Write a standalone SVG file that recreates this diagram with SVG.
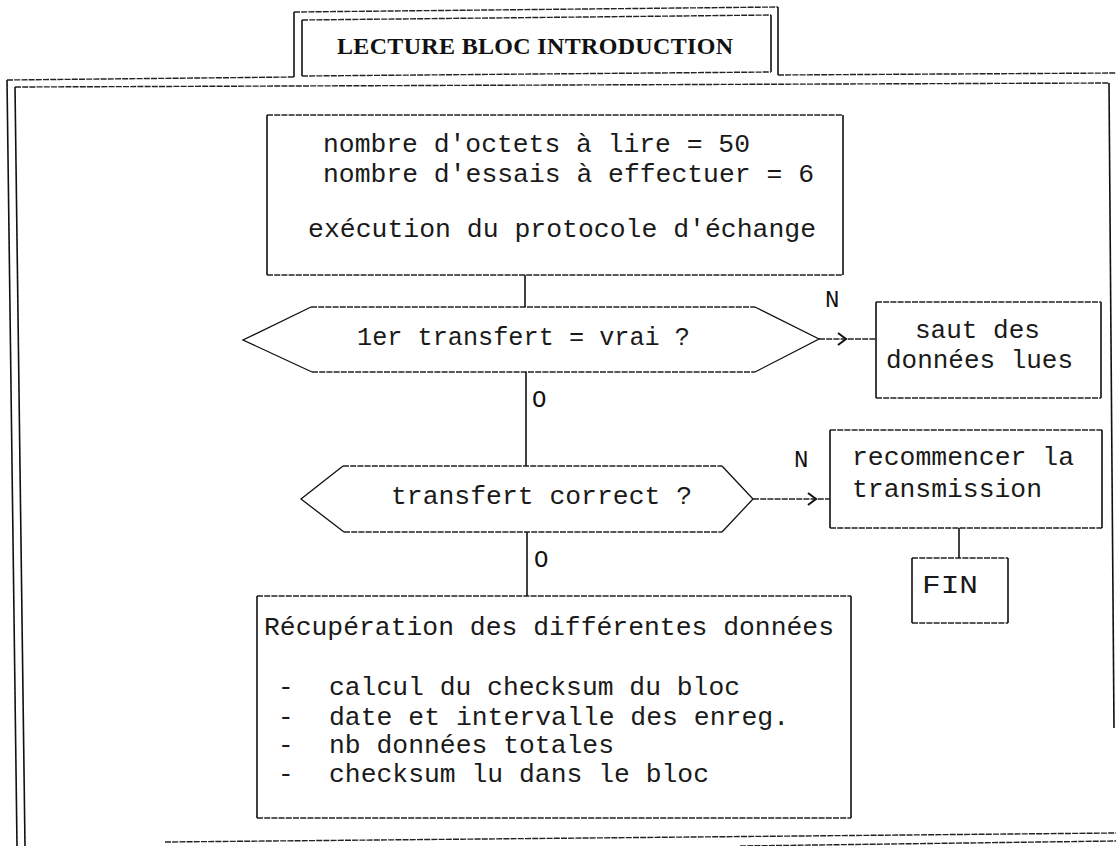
<svg xmlns="http://www.w3.org/2000/svg" width="1116" height="846" viewBox="0 0 1116 846">
<defs>
<style>
.h{stroke:#222;stroke-width:1.4;stroke-dasharray:6 1.2;fill:none}
.v{stroke:#111;stroke-width:1.6;fill:none}
.s{stroke:#111;stroke-width:1.3;fill:none}
.t{font-family:"Liberation Mono","DejaVu Sans Mono",monospace;font-size:26px;fill:#1a1a1a}
.ttl{font-family:"Liberation Serif","Times New Roman",serif;font-weight:bold;font-size:24px;fill:#111}
.lbl{font-family:"Liberation Mono","DejaVu Sans Mono",monospace;font-size:24px;fill:#111}
.c{stroke:#111;stroke-width:1.6;fill:none}
.cd{stroke:#222;stroke-width:1.4;stroke-dasharray:6 1.2;fill:none}
</style>
<marker id="chev" markerWidth="12" markerHeight="16" refX="9" refY="8" orient="auto" markerUnits="userSpaceOnUse"><path d="M1,2 L9,8 L1,14" fill="none" stroke="#111" stroke-width="2"/></marker>
</defs>
<rect width="1116" height="846" fill="#fff"/>
<g id="frame">
<line class="v" x1="7" y1="80" x2="17" y2="846"/>
<line class="v" x1="15" y1="87" x2="25" y2="846"/>
<line class="h" x1="7" y1="80" x2="294" y2="77"/>
<line class="h" x1="15" y1="87" x2="1109" y2="83"/>
<line class="h" x1="778" y1="75" x2="1116" y2="73"/>
<line class="v" x1="1109" y1="83" x2="1114" y2="728"/>
<line class="h" x1="165" y1="842" x2="1116" y2="833"/>
<line class="h" x1="740" y1="846" x2="1116" y2="841"/>
</g>
<g id="title">
<line class="v" x1="294" y1="77" x2="294" y2="12"/>
<line class="h" x1="294" y1="12" x2="778" y2="7"/>
<line class="v" x1="778" y1="7" x2="778" y2="75"/>
<line class="h" x1="302" y1="20" x2="771" y2="15"/>
<line class="v" x1="302" y1="20" x2="302" y2="76"/>
<line class="v" x1="771" y1="15" x2="771" y2="72"/>
<line class="h" x1="302" y1="76" x2="771" y2="72"/>
<text class="ttl" x="337" y="54" textLength="396" lengthAdjust="spacing">LECTURE BLOC INTRODUCTION</text>
</g>
<g id="n_init">
<path class="h" d="M267 115 H843 M267 275 H843"/>
<path class="v" d="M267 115 V275 M843 115 V275"/>
<text class="t" x="323" y="152" textLength="427" lengthAdjust="spacingAndGlyphs">nombre d'octets à lire = 50</text>
<text class="t" x="323" y="182" textLength="491" lengthAdjust="spacingAndGlyphs">nombre d'essais à effectuer = 6</text>
<text class="t" x="308" y="237" textLength="508" lengthAdjust="spacingAndGlyphs">exécution du protocole d'échange</text>
</g>
<g id="d_premier">
<path class="h" d="M311 307 H755 M312 372 H755"/>
<path class="s" d="M311 307 L243 340 L312 372 M755 307 L819 339 L755 372"/>
<text class="t" x="357" y="345" textLength="333" lengthAdjust="spacingAndGlyphs">1er transfert = vrai ?</text>
</g>
<g id="n_saut">
<path class="h" d="M876 302 H1101 M876 398 H1101"/>
<path class="v" d="M876 302 V398 M1101 302 V398"/>
<text class="t" x="915" y="338" textLength="125" lengthAdjust="spacingAndGlyphs">saut des</text>
<text class="t" x="886" y="368" textLength="187" lengthAdjust="spacingAndGlyphs">données lues</text>
</g>
<g id="d_correct">
<path class="h" d="M343 466 H722 M344 532 H722"/>
<path class="s" d="M343 466 L301 499 L344 532 M722 466 L753 499 L722 532"/>
<text class="t" x="391" y="504" textLength="301" lengthAdjust="spacingAndGlyphs">transfert correct ?</text>
</g>
<g id="n_recommencer">
<path class="h" d="M830 430 H1102 M830 528 H1102"/>
<path class="v" d="M830 430 V528 M1102 430 V528"/>
<text class="t" x="852" y="465" textLength="222" lengthAdjust="spacingAndGlyphs">recommencer la</text>
<text class="t" x="852" y="497" textLength="190" lengthAdjust="spacingAndGlyphs">transmission</text>
</g>
<g id="n_fin">
<path class="h" d="M912 558 H1008 M912 623 H1008"/>
<path class="v" d="M912 558 V623 M1008 558 V623"/>
<text class="t" x="922" y="593" textLength="56" lengthAdjust="spacingAndGlyphs">FIN</text>
</g>
<g id="n_recup">
<path class="h" d="M257 596 H851 M257 818 H851"/>
<path class="v" d="M257 596 V818 M851 596 V818"/>
<text class="t" x="264" y="635" textLength="570" lengthAdjust="spacingAndGlyphs">Récupération des différentes données</text>
<text class="t" x="278" y="695">-</text>
<text class="t" x="278" y="725">-</text>
<text class="t" x="278" y="753">-</text>
<text class="t" x="278" y="782">-</text>
<text class="t" x="329" y="695" textLength="411" lengthAdjust="spacingAndGlyphs">calcul du checksum du bloc</text>
<text class="t" x="329" y="725" textLength="460" lengthAdjust="spacingAndGlyphs">date et intervalle des enreg.</text>
<text class="t" x="329" y="753" textLength="285" lengthAdjust="spacingAndGlyphs">nb données totales</text>
<text class="t" x="329" y="782" textLength="380" lengthAdjust="spacingAndGlyphs">checksum lu dans le bloc</text>
</g>
<g id="connectors">
<line class="c" x1="525" y1="275" x2="525" y2="307"/>
<line class="c" x1="526" y1="372" x2="526" y2="466"/>
<line class="c" x1="527" y1="532" x2="527" y2="596"/>
<line class="c" x1="959" y1="528" x2="959" y2="558"/>
<path class="cd" d="M819 339 L846 339 L876 339" marker-mid="url(#chev)"/>
<path class="cd" d="M753 499 L816 499 L830 499" marker-mid="url(#chev)"/>
<text class="lbl" x="825" y="307">N</text>
<text class="lbl" x="794" y="467">N</text>
<text class="lbl" x="532" y="407">O</text>
<text class="lbl" x="534" y="567">O</text>
</g>
</svg>
